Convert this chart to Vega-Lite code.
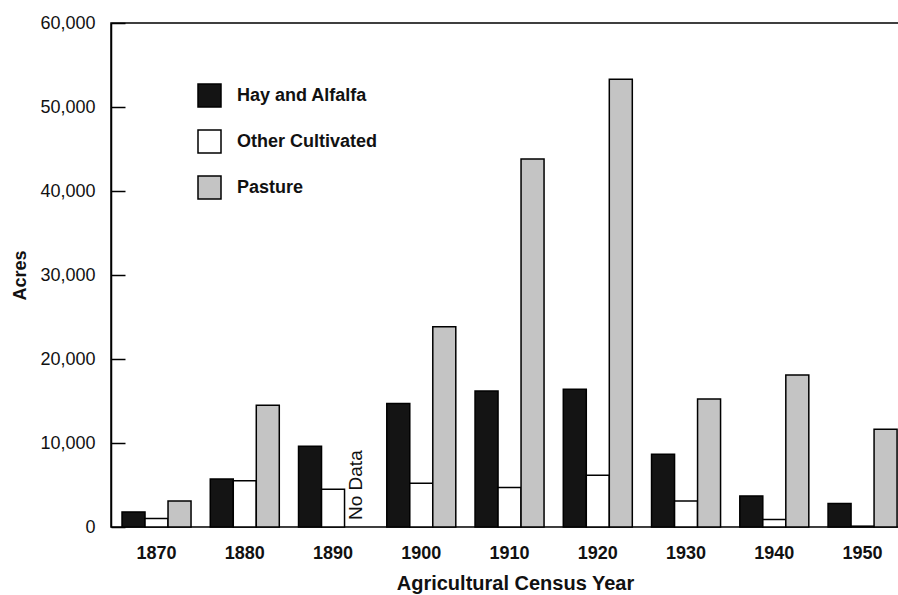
{
  "$schema": "https://vega.github.io/schema/vega-lite/v6.json",
  "autosize": {"type": "none"},
  "padding": {"left": 111, "top": 23, "right": 0, "bottom": 68},
  "width": 789,
  "height": 504,
  "background": "white",
  "config": {
    "font": "Liberation Sans",
    "view": {"stroke": "black", "strokeWidth": 1.5},
    "axis": {"labelColor": "#111", "titleColor": "#111", "labelFont": "Liberation Sans", "titleFont": "Liberation Sans"}
  },
  "data": {
    "values": [
      {"year": "1870", "series": "Hay and Alfalfa", "acres": 1800},
      {"year": "1870", "series": "Other Cultivated", "acres": 1000},
      {"year": "1870", "series": "Pasture", "acres": 3100},
      {"year": "1880", "series": "Hay and Alfalfa", "acres": 5700},
      {"year": "1880", "series": "Other Cultivated", "acres": 5500},
      {"year": "1880", "series": "Pasture", "acres": 14500},
      {"year": "1890", "series": "Hay and Alfalfa", "acres": 9600},
      {"year": "1890", "series": "Other Cultivated", "acres": 4500},
      {"year": "1890", "series": "Pasture", "acres": null, "note": "No Data"},
      {"year": "1900", "series": "Hay and Alfalfa", "acres": 14700},
      {"year": "1900", "series": "Other Cultivated", "acres": 5200},
      {"year": "1900", "series": "Pasture", "acres": 23850},
      {"year": "1910", "series": "Hay and Alfalfa", "acres": 16200},
      {"year": "1910", "series": "Other Cultivated", "acres": 4700},
      {"year": "1910", "series": "Pasture", "acres": 43800},
      {"year": "1920", "series": "Hay and Alfalfa", "acres": 16400},
      {"year": "1920", "series": "Other Cultivated", "acres": 6150},
      {"year": "1920", "series": "Pasture", "acres": 53300},
      {"year": "1930", "series": "Hay and Alfalfa", "acres": 8650},
      {"year": "1930", "series": "Other Cultivated", "acres": 3100},
      {"year": "1930", "series": "Pasture", "acres": 15250},
      {"year": "1940", "series": "Hay and Alfalfa", "acres": 3700},
      {"year": "1940", "series": "Other Cultivated", "acres": 900},
      {"year": "1940", "series": "Pasture", "acres": 18100},
      {"year": "1950", "series": "Hay and Alfalfa", "acres": 2800},
      {"year": "1950", "series": "Other Cultivated", "acres": 100},
      {"year": "1950", "series": "Pasture", "acres": 11650}
    ]
  },
  "encoding": {
    "x": {
      "field": "year", "type": "ordinal",
      "scale": {"paddingInner": 0.218, "paddingOuter": 0.079, "align": 0.79},
      "axis": {
        "title": "Agricultural Census Year", "labelAngle": 0, "ticks": false, "domain": false,
        "labelFontSize": 18, "labelFontWeight": "bold", "labelPadding": 17,
        "titleFontSize": 20, "titleFontWeight": "bold", "titleX": 404, "titleY": 56, "titleBaseline": "middle"
      }
    },
    "xOffset": {
      "field": "series", "type": "nominal",
      "sort": ["Hay and Alfalfa", "Other Cultivated", "Pasture"],
      "scale": {"paddingInner": 0, "paddingOuter": 0}
    }
  },
  "layer": [
    {
      "mark": {"type": "bar", "stroke": "black", "strokeWidth": 1.5},
      "encoding": {
        "y": {
          "field": "acres", "type": "quantitative",
          "scale": {"domain": [0, 60000], "nice": false},
          "axis": {
            "title": "Acres", "format": ",d", "values": [0, 10000, 20000, 30000, 40000, 50000, 60000],
            "grid": false, "tickSize": -14, "tickColor": "black", "tickWidth": 1.5,
            "domainColor": "black", "domainWidth": 1.5,
            "labelFontSize": 18, "labelPadding": 30,
            "titleFontSize": 18, "titleFontWeight": "bold", "titleX": -91, "titleBaseline": "middle"
          }
        },
        "fill": {
          "field": "series", "type": "nominal",
          "sort": ["Hay and Alfalfa", "Other Cultivated", "Pasture"],
          "scale": {"range": ["#141414", "#ffffff", "#c4c4c4"]},
          "legend": {
            "title": null, "orient": "none", "legendX": 86, "legendY": 60, "padding": 0,
            "symbolType": "square", "symbolSize": 529, "symbolStrokeColor": "black", "symbolStrokeWidth": 1.5,
            "symbolOpacity": 1, "rowPadding": 17, "labelOffset": 15,
            "labelFontSize": 18, "labelFontWeight": "bold", "labelColor": "#111", "labelFont": "Liberation Sans"
          }
        }
      }
    },
    {
      "transform": [{"filter": "datum.note != null"}],
      "mark": {"type": "text", "angle": 270, "align": "left", "baseline": "middle", "dx": 7, "fontSize": 19, "color": "#111"},
      "encoding": {
        "y": {"datum": 0},
        "text": {"field": "note"}
      }
    }
  ]
}
